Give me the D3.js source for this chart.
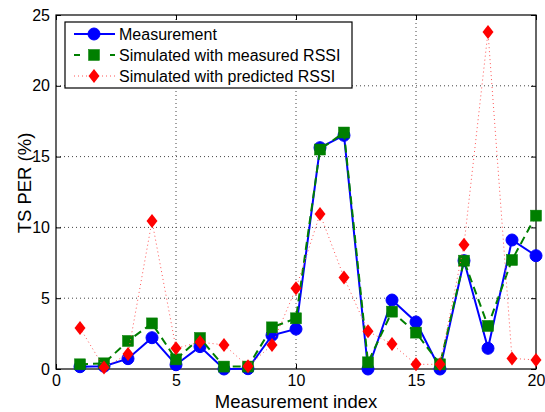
<!DOCTYPE html>
<html>
<head>
<meta charset="utf-8">
<script src="https://cdn.jsdelivr.net/npm/d3@7"></script>
<style>
  body { margin: 0; background: #fff; }
  text { font-family: "Liberation Sans", Arial, sans-serif; fill: #000; }
</style>
</head>
<body>
<div id="chart"></div>
<script>
// measurement index 1..20
var indexes = d3.range(1, 21);
var measured = [0.16, 0.2, 0.73, 2.21, 0.3, 1.58, 0.0, 0.02, 2.38, 2.82,
                15.63, 16.5, 0.0, 4.87, 3.32, 0.0, 7.65, 1.46, 9.11, 8.0];
var simMeasuredRssi = [0.33, 0.4, 1.98, 3.22, 0.68, 2.19, 0.17, 0.17, 2.94, 3.58,
                       15.5, 16.7, 0.47, 4.05, 2.57, 0.33, 7.65, 3.04, 7.7, 10.83];
var simPredictedRssi = [2.9, 0.1, 1.06, 10.45, 1.46, 1.9, 1.7, 0.2, 1.7, 5.7,
                        10.95, 6.47, 2.66, 1.76, 0.33, 0.33, 8.78, 23.8, 0.75, 0.64];
var xTicks = [0, 5, 10, 15, 20];
var yTicks = [0, 5, 10, 15, 20, 25];
var legendLabels = ["Measurement", "Simulated with measured RSSI", "Simulated with predicted RSSI"];

var margin = {top: 15, right: 9, bottom: 43, left: 56};
var width = 545 - margin.left - margin.right;
var height = 412 - margin.top - margin.bottom;

var svg = d3.select("#chart").append("svg")
    .attr("width", 545)
    .attr("height", 412);

var g = svg.append("g")
    .attr("transform", "translate(" + margin.left + "," + margin.top + ")");

var x = d3.scaleLinear().domain([0, 20]).range([0, width]);
var y = d3.scaleLinear().domain([0, 25]).range([height, 0]);

// dotted grid
g.selectAll(".vgrid").data(xTicks.slice(1, -1)).enter().append("line")
    .attr("x1", function (d) { return x(d); })
    .attr("x2", function (d) { return x(d); })
    .attr("y1", 0).attr("y2", height)
    .attr("stroke", "#444").attr("stroke-width", 1)
    .attr("stroke-dasharray", "1,3");
g.selectAll(".hgrid").data(yTicks.slice(1, -1)).enter().append("line")
    .attr("x1", 0).attr("x2", width)
    .attr("y1", function (d) { return y(d); })
    .attr("y2", function (d) { return y(d); })
    .attr("stroke", "#444").attr("stroke-width", 1)
    .attr("stroke-dasharray", "1,3");

// axes, ticks pointing inside
var xAxis = g.append("g")
    .attr("transform", "translate(0," + height + ")")
    .call(d3.axisBottom(x).tickValues(xTicks).tickSize(-5).tickPadding(6).tickFormat(d3.format("d")));
var xAxisTop = g.append("g")
    .call(d3.axisTop(x).tickValues(xTicks).tickSize(-5).tickFormat(""));
var yAxis = g.append("g")
    .call(d3.axisLeft(y).tickValues(yTicks).tickSize(-5).tickPadding(6).tickFormat(d3.format("d")));
var yAxisRight = g.append("g")
    .attr("transform", "translate(" + width + ",0)")
    .call(d3.axisRight(y).tickValues(yTicks).tickSize(-5).tickFormat(""));

[xAxis, xAxisTop, yAxis, yAxisRight].forEach(function (a) {
    a.select(".domain").remove();
    a.selectAll("line").attr("stroke", "#000");
    a.selectAll("text").style("font-size", "16px").attr("fill", "#000");
});

g.append("rect")
    .attr("width", width).attr("height", height)
    .attr("fill", "none").attr("stroke", "#000").attr("stroke-width", 1.2);

var line = d3.line()
    .x(function (d) { return x(d[0]); })
    .y(function (d) { return y(d[1]); });

var series = [
    {values: measured, color: "#0000ff", width: 2, dash: null, marker: "circle"},
    {values: simMeasuredRssi, color: "#007f00", width: 2, dash: "8,5", marker: "square"},
    {values: simPredictedRssi, color: "#ff5555", width: 1, dash: "1,3", marker: "diamond"}
];

function drawMarker(sel, s, cx, cy) {
    if (s.marker === "circle") {
        sel.append("circle").attr("cx", cx).attr("cy", cy).attr("r", 6)
            .attr("fill", "#0000ff").attr("stroke", "#0000ff");
    } else if (s.marker === "square") {
        sel.append("rect").attr("x", cx - 5.5).attr("y", cy - 5.5)
            .attr("width", 11).attr("height", 11)
            .attr("fill", "#007f00").attr("stroke", "#007f00").attr("stroke-width", 0.5);
    } else {
        sel.append("path")
            .attr("d", "M" + cx + "," + (cy - 7) + "L" + (cx + 5.5) + "," + cy +
                "L" + cx + "," + (cy + 7) + "L" + (cx - 5.5) + "," + cy + "Z")
            .attr("fill", "#ff0000");
    }
}

series.forEach(function (s) {
    var pts = indexes.map(function (d, i) { return [d, s.values[i]]; });
    var sg = g.append("g");
    sg.append("path")
        .datum(pts)
        .attr("d", line)
        .attr("fill", "none")
        .attr("stroke", s.color)
        .attr("stroke-width", s.width)
        .attr("stroke-dasharray", s.dash);
    pts.forEach(function (p) {
        drawMarker(sg, s, x(p[0]), y(p[1]));
    });
});

// legend
var legend = svg.append("g").attr("transform", "translate(65,22)");
legend.append("rect")
    .attr("width", 287).attr("height", 66)
    .attr("fill", "#fff").attr("stroke", "#000").attr("stroke-width", 1.2);
series.forEach(function (s, i) {
    var ly = 12 + i * 21;
    legend.append("line")
        .attr("x1", 9).attr("x2", 50)
        .attr("y1", ly).attr("y2", ly)
        .attr("stroke", s.color)
        .attr("stroke-width", s.width)
        .attr("stroke-dasharray", s.dash === "8,5" ? "6,12" : s.dash);
    drawMarker(legend, s, 29, ly);
    legend.append("text")
        .attr("x", 54).attr("y", ly + 5.5)
        .style("font-size", "16px")
        .text(legendLabels[i]);
});

// axis titles
svg.append("text")
    .attr("x", 296).attr("y", 408)
    .attr("text-anchor", "middle")
    .style("font-size", "18.5px")
    .text("Measurement index");
svg.append("text")
    .attr("transform", "translate(31,183) rotate(-90)")
    .attr("text-anchor", "middle")
    .style("font-size", "18.5px")
    .text("TS PER (%)");
</script>
</body>
</html>
